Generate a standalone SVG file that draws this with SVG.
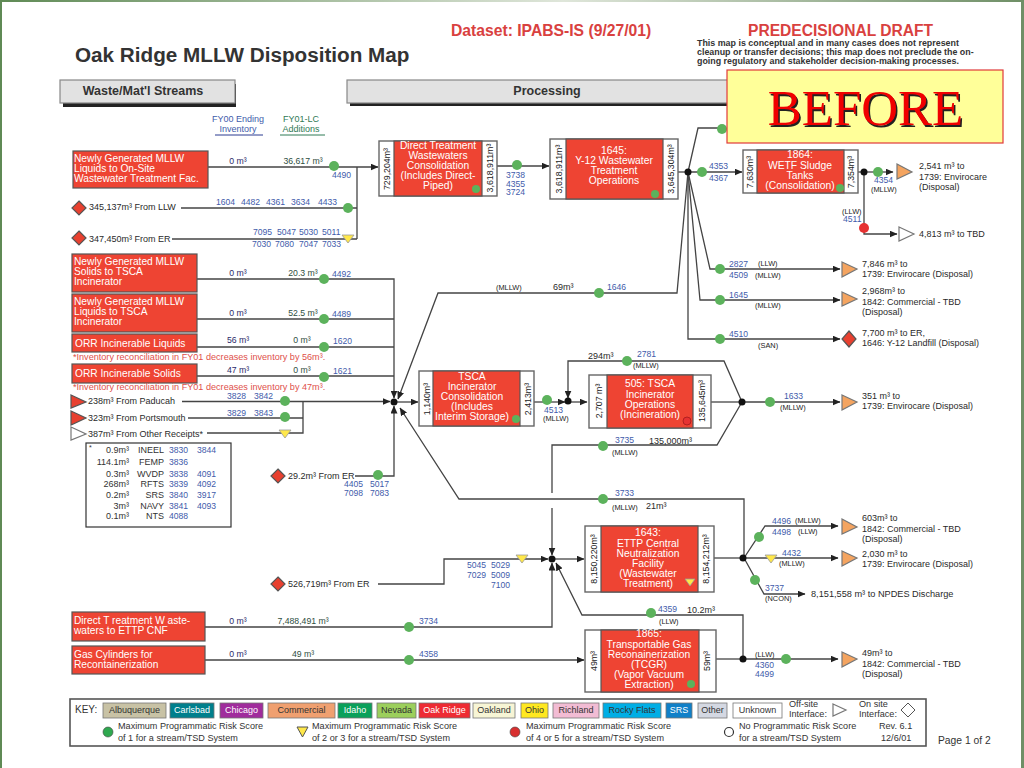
<svg xmlns="http://www.w3.org/2000/svg" width="1024" height="768" viewBox="0 0 1024 768">
<defs>
<marker id="ah" markerWidth="8" markerHeight="7" refX="7.5" refY="3.5" orient="auto" markerUnits="userSpaceOnUse"><path d="M0 0L8 3.5L0 7z" fill="#222"/></marker>
<linearGradient id="tg" x1="0" x2="1" y1="0" y2="0"><stop offset="0" stop-color="#5f8a55"/><stop offset=".55" stop-color="#dfe6da"/><stop offset="1" stop-color="#6f8f66"/></linearGradient>
</defs>
<style>
text{font-family:"Liberation Sans",Arial,sans-serif;fill:#333;font-size:9px}
.t{font-size:9px;fill:#2a2a2a}
.b{fill:#3f5cab;font-size:8.6px}
.s{fill:#222;font-size:7.4px}
.d{fill:#2f4f3f;font-size:8.7px}
.n{fill:#2a2a6a;font-size:8.7px}
.rt{fill:#fff;font-size:10.2px}
.rc{fill:#fff;font-size:10.3px;text-anchor:middle}
.rb{fill:#ee4433;stroke:#555;stroke-width:1.2}
.o{fill:#f4a460;stroke:#777;stroke-width:1.2}
.dm{fill:#e8402f;stroke:#555;stroke-width:1.2}
.wt{fill:#fff;stroke:#777;stroke-width:1.2}
.g circle{fill:#5cb25c}
.y polygon{fill:#ffe84a;stroke:#999;stroke-width:.8}
.l{fill:none;stroke:#444;stroke-width:1.3}
.a{fill:none;stroke:#444;stroke-width:1.3;marker-end:url(#ah)}
.pb{fill:#fff;stroke:#666;stroke-width:1.4}
.v{font-size:8.8px;fill:#222;text-anchor:middle}
.k{font-size:9px;text-anchor:middle}
.kw{font-size:9px;text-anchor:middle;fill:#fff}
.note{fill:#e0504a;font-size:9.1px}
.sub{font-size:9.1px;fill:#333}
.hd{font-size:12.5px;font-weight:bold;text-anchor:middle;fill:#333}
.dc{font-size:8.9px;font-weight:bold;fill:#333}
.bf{font-family:"Liberation Serif",serif;font-size:51px;text-anchor:middle}
</style>
<rect width="1024" height="768" fill="#fff"/>
<rect x="0" y="0" width="1024" height="2" fill="url(#tg)"/>
<rect x="0" y="0" width="2" height="768" fill="#5f8a55"/>
<rect x="1021" y="0" width="3" height="768" fill="#6f8f66"/>

<g id="header">
<text x="75" y="62" style="font-size:20.7px;font-weight:bold;fill:#333">Oak Ridge MLLW Disposition Map</text>
<text x="451" y="36" style="font-size:15.7px;font-weight:bold;fill:#d9413f">Dataset: IPABS-IS (9/27/01)</text>
<text x="748" y="36" style="font-size:15.6px;font-weight:bold;fill:#d9413f">PREDECISIONAL DRAFT</text>
<text class="dc" x="697" y="46">This map is conceptual and in many cases does not represent</text>
<text class="dc" x="697" y="55">cleanup or transfer decisions; this map does not preclude the on-</text>
<text class="dc" x="697" y="64">going regulatory and stakeholder decision-making processes.</text>
</g>
<g id="band-streams"><rect x="63" y="84" width="173" height="23" fill="#222"/><rect x="60" y="80" width="175" height="23" fill="#e2e2e2" stroke="#888" stroke-width="1.2"/><text class="hd" x="143" y="95">Waste/Mat'l Streams</text></g>
<g id="band-processing"><rect x="350" y="83" width="385" height="23" fill="#222"/><rect x="347" y="80" width="385" height="23" fill="#e2e2e2" stroke="#888" stroke-width="1.2"/><text class="hd" x="547" y="95">Processing</text></g>
<g id="col-heads">
<text x="238" y="122" text-anchor="middle" class="b" style="font-size:9px">FY00 Ending</text><text x="238" y="132" text-anchor="middle" class="b" style="font-size:9px">Inventory</text>
<line x1="215" x2="263" y1="135" y2="135" stroke="#2a3a90" stroke-width="1"/>
<text x="301" y="122" text-anchor="middle" style="fill:#2f7a55">FY01-LC</text><text x="301" y="132" text-anchor="middle" style="fill:#2f7a55">Additions</text>
<line x1="280" x2="325" y1="135" y2="135" stroke="#2f7a55" stroke-width="1"/>
</g>

<g id="connectors">
<path class="a" d="M208 167H378"/><path class="l" d="M357 167V239"/>
<path class="l" d="M181 208H357"/><path class="l" d="M172 239H357"/>
<path class="a" d="M197 279H394V398"/><path class="l" d="M197 319H394"/><path class="l" d="M197 347H394"/><path class="l" d="M197 376H394"/>
<path class="a" d="M182 401.500H390"/><path class="l" d="M188 418H303"/><path class="l" d="M207 433H303V402"/>
<path class="a" d="M355 476H394V406"/>
<path class="a" d="M688 172L677 293H438L398 399"/>
<path class="a" d="M396 402H418"/>
<path class="a" d="M744 559V499H459L400 408"/>
<path class="a" d="M497 166H549"/>
<path class="l" d="M678 172H688"/>
<path class="l" d="M688 172L698 128H726"/>
<path class="a" d="M688 172H742"/>
<path class="a" d="M688 172V339H840"/>
<path class="a" d="M688 172L710 269H840"/>
<path class="a" d="M688 172L700 300H840"/>
<path class="l" d="M858 172H864"/>
<path class="a" d="M864 172H893"/>
<path class="a" d="M864 172V234H897"/>
<path class="a" d="M534 402H565"/>
<path class="a" d="M568 402H587"/>
<path class="l" d="M711 402H742"/>
<path class="a" d="M742 402L724 361H568V398"/>
<path class="a" d="M742 402H840"/>
<path class="l" d="M742 402L717 445H552V493"/>
<path class="a" d="M552 508V555"/>
<path class="a" d="M205 627H552V563"/>
<path class="a" d="M378 584H444V559H548"/>
<path class="a" d="M553 559H584"/>
<path class="l" d="M714 558H744"/>
<path class="a" d="M744 558H838"/>
<path class="a" d="M744 558L765 526H838"/>
<path class="a" d="M744 558L764 594H805"/>
<path class="a" d="M743 659V615H582L556 563"/>
<path class="l" d="M716 659H743"/>
<path class="a" d="M743 659H838"/>
<path class="a" d="M205 660H584"/>
</g>

<g id="left-streams">
<g id="s1"><rect class="rb" x="73" y="151" width="135" height="37"/><text class="rt" x="74" y="162">Newly Generated MLLW</text><text class="rt" x="74" y="172">Liquids to On-Site</text><text class="rt" x="74" y="182">Wastewater Treatment Fac.</text></g>
<g id="s2"><rect class="rb" x="72" y="254" width="125" height="38"/><text class="rt" x="74" y="265">Newly Generated MLLW</text><text class="rt" x="74" y="275">Solids to TSCA</text><text class="rt" x="74" y="285">Incinerator</text></g>
<g id="s3"><rect class="rb" x="72" y="294" width="125" height="38"/><text class="rt" x="74" y="305">Newly Generated MLLW</text><text class="rt" x="74" y="315">Liquids to TSCA</text><text class="rt" x="74" y="325">Incinerator</text></g>
<g id="s4"><rect class="rb" x="72" y="334" width="125" height="18"/><text class="rt" x="75" y="347">ORR Incinerable Liquids</text></g>
<g id="s5"><rect class="rb" x="72" y="364" width="125" height="19"/><text class="rt" x="75" y="377">ORR Incinerable Solids</text></g>
<g id="s6"><rect class="rb" x="72" y="612" width="133" height="29"/><text class="rt" x="74" y="624">Direct T reatment W aste-</text><text class="rt" x="74" y="634">waters to ETTP CNF</text></g>
<g id="s7"><rect class="rb" x="72" y="646" width="133" height="28"/><text class="rt" x="74" y="658">Gas Cylinders for</text><text class="rt" x="74" y="668">Recontainerization</text></g>
<text class="note" x="73" y="360">*Inventory reconciliation in FY01 decreases inventory by 56m³.</text>
<text class="note" x="73" y="390">*Inventory reconciliation in FY01 decreases inventory by 47m³.</text>
</g>

<g id="sources">
<g id="d1"><polygon class="dm" points="79,201 86,208 79,215 72,208"/><text class="t" x="89" y="210">345,137m³ From LLW</text></g>
<g id="d2"><polygon class="dm" points="79,231 86,238 79,245 72,238"/><text class="t" x="89" y="242">347,450m³ From ER</text></g>
<g id="d3"><polygon class="dm" points="278,469 285,476 278,483 271,476"/><text class="t" x="288" y="479">29.2m³ From ER</text></g>
<g id="d4"><polygon class="dm" points="278,577 285,584 278,591 271,584"/><text class="t" x="288" y="587">526,719m³ From ER</text></g>
<g id="t1"><polygon class="dm" points="71,395 86,402 71,408"/><text class="t" x="88" y="404">238m³ From Paducah</text></g>
<g id="t2"><polygon class="dm" points="71,411 86,418 71,425"/><text class="t" x="88" y="421">323m³ From Portsmouth</text></g>
<g id="t3"><polygon class="wt" points="71,427 86,434 71,440"/><text class="t" x="88" y="437">387m³ From Other Receipts*</text></g>
</g>

<g id="labels-left">
<text class="n" x="238" y="164" text-anchor="middle">0 m³</text><text class="d" x="303" y="164" text-anchor="middle">36,617 m³</text><text class="b" x="332" y="178">4490</text>
<text class="b" x="216" y="205">1604</text><text class="b" x="241" y="205">4482</text><text class="b" x="266" y="205">4361</text><text class="b" x="291" y="205">3634</text><text class="b" x="318" y="205">4433</text>
<text class="b" x="253" y="235">7095</text><text class="b" x="277" y="235">5047</text><text class="b" x="299" y="235">5030</text><text class="b" x="322" y="235">5011</text>
<text class="b" x="252" y="247">7030</text><text class="b" x="275" y="247">7080</text><text class="b" x="299" y="247">7047</text><text class="b" x="322" y="247">7033</text>
<text class="n" x="238" y="276" text-anchor="middle">0 m³</text><text class="d" x="303" y="276" text-anchor="middle">20.3 m³</text><text class="b" x="332" y="277">4492</text>
<text class="n" x="238" y="316" text-anchor="middle">0 m³</text><text class="d" x="303" y="316" text-anchor="middle">52.5 m³</text><text class="b" x="332" y="317">4489</text>
<text class="n" x="238" y="343" text-anchor="middle">56 m³</text><text class="d" x="302" y="343" text-anchor="middle">0 m³</text><text class="b" x="333" y="344">1620</text>
<text class="n" x="238" y="373" text-anchor="middle">47 m³</text><text class="d" x="302" y="373" text-anchor="middle">0 m³</text><text class="b" x="333" y="374">1621</text>
<text class="b" x="227" y="399">3828</text><text class="b" x="254" y="399">3842</text><text class="b" x="227" y="416">3829</text><text class="b" x="254" y="416">3843</text>
<text class="b" x="344" y="487">4405</text><text class="b" x="370" y="487">5017</text><text class="b" x="344" y="496">7098</text><text class="b" x="370" y="496">7083</text>
<text class="n" x="238" y="624" text-anchor="middle">0 m³</text><text class="d" x="303" y="624" text-anchor="middle">7,488,491 m³</text><text class="b" x="419" y="624">3734</text>
<text class="n" x="238" y="657" text-anchor="middle">0 m³</text><text class="d" x="303" y="657" text-anchor="middle">49 m³</text><text class="b" x="419" y="657">4358</text>
</g>

<g id="receipts-box">
<rect x="86" y="443" width="145" height="84" fill="#fff" stroke="#333" stroke-width="1.2"/>
<text x="89" y="450" style="font-size:7px">*</text>
<text x="129" y="453" text-anchor="end">0.9m³</text><text x="164" y="453" text-anchor="end">INEEL</text><text class="b" x="169" y="453">3830</text><text class="b" x="197" y="453">3844</text>
<text x="129" y="465" text-anchor="end">114.1m³</text><text x="164" y="465" text-anchor="end">FEMP</text><text class="b" x="169" y="465">3836</text>
<text x="129" y="477" text-anchor="end">0.3m³</text><text x="164" y="477" text-anchor="end">WVDP</text><text class="b" x="169" y="477">3838</text><text class="b" x="197" y="477">4091</text>
<text x="129" y="487" text-anchor="end">268m³</text><text x="164" y="487" text-anchor="end">RFTS</text><text class="b" x="169" y="487">3839</text><text class="b" x="197" y="487">4092</text>
<text x="129" y="498" text-anchor="end">0.2m³</text><text x="164" y="498" text-anchor="end">SRS</text><text class="b" x="169" y="498">3840</text><text class="b" x="197" y="498">3917</text>
<text x="129" y="509" text-anchor="end">3m³</text><text x="164" y="509" text-anchor="end">NAVY</text><text class="b" x="169" y="509">3841</text><text class="b" x="197" y="509">4093</text>
<text x="129" y="519" text-anchor="end">0.1m³</text><text x="164" y="519" text-anchor="end">NTS</text><text class="b" x="169" y="519">4088</text>
</g>

<g id="p-direct"><rect class="pb" x="379" y="141" width="118" height="55"/><rect class="rb" x="394" y="141" width="88" height="55"/>
<text class="rc" x="438" y="149">Direct Treatment</text><text class="rc" x="438" y="159">Wastewaters</text><text class="rc" x="438" y="169">Consolidation</text><text class="rc" x="438" y="179">(Includes Direct-</text><text class="rc" x="438" y="189">Piped)</text>
<text class="v" transform="translate(390,169) rotate(-90)">729,204m³</text><text class="v" transform="translate(493,168) rotate(-90)">3,618,911m³</text></g>
<g id="p-y12"><rect class="pb" x="550" y="139" width="128" height="60"/><rect class="rb" x="566" y="139" width="97" height="60"/>
<text class="rc" x="614" y="154">1645:</text><text class="rc" x="614" y="164">Y-12 Wastewater</text><text class="rc" x="614" y="174">Treatment</text><text class="rc" x="614" y="184">Operations</text>
<text class="v" transform="translate(562,169) rotate(-90)">3,618,911m³</text><text class="v" transform="translate(674,169) rotate(-90)">3,645,304m³</text></g>
<g id="p-wetf"><rect class="pb" x="743" y="150" width="115" height="43"/><rect class="rb" x="757" y="150" width="87" height="43"/>
<text class="rc" x="800" y="158">1864:</text><text class="rc" x="800" y="169">WETF Sludge</text><text class="rc" x="800" y="179">Tanks</text><text class="rc" x="800" y="189">(Consolidation)</text>
<text class="v" transform="translate(753,172) rotate(-90)">7,630m³</text><text class="v" transform="translate(854,172) rotate(-90)">7,354m³</text></g>
<g id="p-tsca"><rect class="pb" x="419" y="371" width="115" height="55"/><rect class="rb" x="433" y="371" width="87" height="55"/>
<text class="rc" x="472" y="380">TSCA</text><text class="rc" x="472" y="390">Incinerator</text><text class="rc" x="472" y="400">Consolidation</text><text class="rc" x="472" y="410">(Includes</text><text class="rc" x="472" y="420">Interim  Storage)</text>
<text class="v" transform="translate(430,399) rotate(-90)">1,140m³</text><text class="v" transform="translate(531,399) rotate(-90)">2,413m³</text></g>
<g id="p-505"><rect class="pb" x="589" y="375" width="122" height="53"/><rect class="rb" x="607" y="375" width="86" height="53"/>
<text class="rc" x="650" y="387">505: TSCA</text><text class="rc" x="650" y="398">Incinerator</text><text class="rc" x="650" y="408">Operations</text><text class="rc" x="650" y="418">(Incineration)</text>
<text class="v" transform="translate(602,401) rotate(-90)">2,707 m³</text><text class="v" transform="translate(705,401) rotate(-90)">135,645m³</text></g>
<g id="p-1643"><rect class="pb" x="585" y="526" width="129" height="66"/><rect class="rb" x="601" y="526" width="97" height="66"/>
<text class="rc" x="648" y="536">1643:</text><text class="rc" x="648" y="546.500">ETTP Central</text><text class="rc" x="648" y="557">Neutralization</text><text class="rc" x="648" y="567">Facility</text><text class="rc" x="648" y="577">(Wastewater</text><text class="rc" x="648" y="587">Treatment)</text>
<text class="v" transform="translate(597,559) rotate(-90)">8,150,220m³</text><text class="v" transform="translate(709,559) rotate(-90)">8,154,212m³</text></g>
<g id="p-1865"><rect class="pb" x="585" y="630" width="131" height="62"/><rect class="rb" x="601" y="630" width="98" height="62"/>
<text class="rc" x="649" y="637">1865:</text><text class="rc" x="649" y="647.500">Transportable Gas</text><text class="rc" x="649" y="657.500">Reconainerization</text><text class="rc" x="649" y="667.500">(TCGR)</text><text class="rc" x="649" y="677.500">(Vapor Vacuum</text><text class="rc" x="649" y="687.500">Extraction)</text>
<text class="v" transform="translate(597,661) rotate(-90)">49m³</text><text class="v" transform="translate(710,661) rotate(-90)">59m³</text></g>

<g id="risk-dots" class="g">
<circle cx="334" cy="166" r="5"/><circle cx="348" cy="208" r="5"/><circle cx="324" cy="279" r="5"/><circle cx="324" cy="319" r="5"/><circle cx="324" cy="347" r="5"/><circle cx="324" cy="377" r="5"/><circle cx="285" cy="401" r="5"/><circle cx="285" cy="417" r="5"/><circle cx="378" cy="475" r="5"/>
<circle cx="409" cy="627" r="5"/><circle cx="409" cy="660" r="5"/>
<circle cx="517" cy="165" r="5"/><circle cx="476" cy="189" r="4"/><circle cx="655" cy="194" r="4"/>
<circle cx="599" cy="293" r="5"/>
<circle cx="722" cy="129" r="5"/><circle cx="702" cy="172" r="5"/><circle cx="720" cy="269" r="5"/><circle cx="720" cy="300" r="5"/><circle cx="720" cy="339" r="5"/><circle cx="770" cy="402" r="5"/>
<circle cx="840" cy="188" r="4"/><circle cx="878" cy="172" r="5"/>
<circle cx="547" cy="400" r="5"/><circle cx="627" cy="361" r="5"/><circle cx="603" cy="446" r="5"/><circle cx="603" cy="499" r="5"/>
<circle cx="516" cy="419" r="4"/>
<circle cx="759" cy="537" r="5"/><circle cx="755" cy="580" r="5"/><circle cx="651" cy="613" r="5"/><circle cx="786" cy="659" r="5"/><circle cx="691" cy="684" r="4"/>
</g>
<g id="risk-red"><circle cx="864" cy="228" r="5" fill="#e63232"/><circle cx="687" cy="421" r="4" fill="#e63232" stroke="#b02020" stroke-width="1"/></g>
<g id="risk-tri" class="y">
<polygon points="342,235 354,235 348,243"/><polygon points="279,430 291,430 285,438"/><polygon points="516,555 528,555 522,563"/><polygon points="685,579 695,579 690,586"/><polygon points="765,555 777,555 771,563"/>
</g>
<g id="junctions" fill="#111">
<circle cx="394" cy="402" r="3.500"/><circle cx="568" cy="401" r="3.500"/><circle cx="742" cy="402" r="3.500"/><circle cx="688" cy="172" r="3.500"/><circle cx="864" cy="172" r="3.500"/><circle cx="552" cy="559" r="3.500"/><circle cx="743" cy="558" r="3.500"/><circle cx="743" cy="659" r="3.500"/>
</g>

<g id="labels-proc">
<text class="b" x="506" y="178">3738</text><text class="b" x="506" y="187">4355</text><text class="b" x="506" y="195">3724</text>
<text class="s" x="496" y="290">(MLLW)</text><text class="t" x="553" y="290">69m³</text><text class="b" x="607" y="290">1646</text>
<text class="b" x="709" y="169">4353</text><text class="b" x="709" y="181">4367</text>
<text class="b" x="874" y="183">4354</text><text class="s" x="871" y="192">(MLLW)</text>
<text class="s" x="842" y="214">(LLW)</text><text class="b" x="843" y="222">4511</text>
<text class="b" x="729" y="267">2827</text><text class="s" x="758" y="266">(LLW)</text><text class="b" x="729" y="278">4509</text><text class="s" x="755" y="278">(MLLW)</text>
<text class="b" x="729" y="298">1645</text><text class="s" x="755" y="308">(MLLW)</text>
<text class="b" x="729" y="337">4510</text><text class="s" x="758" y="348">(SAN)</text>
<text class="t" x="588" y="359">294m³</text><text class="b" x="637" y="357">2781</text><text class="s" x="633" y="368">(MLLW)</text>
<text class="b" x="544" y="413">4513</text><text class="s" x="543" y="421">(MLLW)</text>
<text class="b" x="615" y="443">3735</text><text class="s" x="612" y="455">(MLLW)</text><text class="t" x="649" y="444">135,000m³</text>
<text class="b" x="615" y="496">3733</text><text class="s" x="612" y="510">(MLLW)</text><text class="t" x="646" y="509">21m³</text>
<text class="b" x="467" y="568">5045</text><text class="b" x="491" y="568">5029</text><text class="b" x="467" y="578">7029</text><text class="b" x="491" y="578">5009</text><text class="b" x="491" y="588">7100</text>
<text class="b" x="658" y="612">4359</text><text class="t" x="687" y="613">10.2m³</text><text class="s" x="659" y="624">(LLW)</text>
<text class="b" x="772" y="524">4496</text><text class="s" x="795" y="523">(MLLW)</text><text class="b" x="772" y="535">4498</text><text class="s" x="798" y="534">(LLW)</text>
<text class="b" x="782" y="556">4432</text><text class="s" x="779" y="566">(MLLW)</text>
<text class="b" x="765" y="591">3737</text><text class="s" x="765" y="601">(NCON)</text>
<text class="s" x="755" y="657">(LLW)</text><text class="b" x="755" y="668">4360</text><text class="b" x="755" y="677">4499</text>
<text class="b" x="784" y="399">1633</text><text class="s" x="780" y="410">(MLLW)</text>
</g>

<g id="destinations">
<g id="out1"><polygon class="o" points="897,164 912,172 897,179"/><text class="t" x="919" y="169">2,541 m³ to</text><text class="t" x="919" y="180">1739: Envirocare</text><text class="t" x="919" y="190">(Disposal)</text></g>
<g id="out2"><polygon class="wt" points="899,227 914,234 899,241"/><text class="t" x="919" y="237">4,813 m³ to TBD</text></g>
<g id="out3"><polygon class="o" points="842,262 857,269 842,277"/><text class="t" x="862" y="267">7,846 m³ to</text><text class="t" x="862" y="277">1739: Envirocare (Disposal)</text></g>
<g id="out4"><polygon class="o" points="842,292 857,299 842,306"/><text class="t" x="862" y="294">2,968m³ to</text><text class="t" x="862" y="305">1842: Commercial - TBD</text><text class="t" x="862" y="315">(Disposal)</text></g>
<g id="out5"><polygon class="dm" points="849,331 856,339 849,347 842,339"/><text class="t" x="862" y="336">7,700 m³ to ER,</text><text class="t" x="862" y="346">1646: Y-12 Landfill (Disposal)</text></g>
<g id="out6"><polygon class="o" points="842,395 857,402 842,410"/><text class="t" x="862" y="399">351 m³ to</text><text class="t" x="862" y="409">1739: Envirocare (Disposal)</text></g>
<g id="out7"><polygon class="o" points="842,519 857,527 842,534"/><text class="t" x="862" y="521">603m³ to</text><text class="t" x="862" y="532">1842: Commercial - TBD</text><text class="t" x="862" y="542">(Disposal)</text></g>
<g id="out8"><polygon class="o" points="842,551 857,558 842,566"/><text class="t" x="862" y="557">2,030 m³ to</text><text class="t" x="862" y="567">1739: Envirocare (Disposal)</text></g>
<g id="out9"><text class="t" x="811" y="597" style="font-size:9.2px">8,151,558 m³ to NPDES Discharge</text></g>
<g id="out10"><polygon class="o" points="842,652 857,659 842,667"/><text class="t" x="862" y="656">49m³ to</text><text class="t" x="862" y="667">1842: Commercial - TBD</text><text class="t" x="862" y="677">(Disposal)</text></g>
</g>

<g id="key">
<rect x="70" y="699" width="856" height="47" fill="#fff" stroke="#555" stroke-width="1.6"/>
<text x="75" y="713" style="font-size:10px">KEY:</text>
<g stroke="#777" stroke-width=".8">
<rect x="103" y="703" width="63" height="15" fill="#c8c2a5"/><rect x="170" y="703" width="44" height="15" fill="#007f8c"/><rect x="220" y="703" width="43" height="15" fill="#a02c9c"/><rect x="268" y="703" width="67" height="15" fill="#f0a070"/><rect x="338" y="703" width="34" height="15" fill="#0aa05a"/><rect x="377" y="703" width="39" height="15" fill="#9ccf5c"/><rect x="419" y="703" width="51" height="15" fill="#ee2b33"/><rect x="473" y="703" width="42" height="15" fill="#f7f5d5"/><rect x="521" y="703" width="27" height="15" fill="#ffe820"/><rect x="553" y="703" width="46" height="15" fill="#f2bcd4"/><rect x="603" y="703" width="58" height="15" fill="#00aee5"/><rect x="666" y="703" width="26" height="15" fill="#1080c8"/><rect x="698" y="703" width="29" height="15" fill="#d4d8e2"/><rect x="733" y="703" width="49" height="15" fill="#fff"/>
</g>
<text class="k" x="134.500" y="713">Albuquerque</text><text class="kw" x="192" y="713">Carlsbad</text><text class="kw" x="241.500" y="713">Chicago</text><text class="k" x="301.500" y="713">Commercial</text><text class="kw" x="355" y="713">Idaho</text><text class="k" x="396.500" y="713">Nevada</text><text class="kw" x="444.500" y="713">Oak Ridge</text><text class="k" x="494" y="713">Oakland</text><text class="k" x="534.500" y="713">Ohio</text><text class="k" x="576" y="713">Richland</text><text class="k" x="632" y="713">Rocky Flats</text><text class="kw" x="679" y="713">SRS</text><text class="k" x="712.500" y="713">Other</text><text class="k" x="757.500" y="713">Unknown</text>
<text class="sub" x="789" y="707">Off-site</text><text class="sub" x="789" y="717">Interface:</text>
<polygon class="wt" points="833,704 846,710 833,716"/>
<text class="sub" x="859" y="707">On site</text><text class="sub" x="859" y="717">Interface:</text>
<polygon fill="#fff" stroke="#555" points="908,703 915,710 908,717 901,710"/>
<circle cx="108" cy="732" r="5" fill="#2fa84f" stroke="#444" stroke-width=".6"/>
<text class="sub" x="118" y="729">Maximum Programmatic Risk Score</text><text class="sub" x="118" y="741">of 1 for a stream/TSD System</text>
<polygon points="297,727 308,727 302.500,737" fill="#ffe84a" stroke="#555" stroke-width="1"/>
<text class="sub" x="312" y="729">Maximum Programmatic Risk Score</text><text class="sub" x="312" y="741">of 2 or 3 for a stream/TSD System</text>
<circle cx="515" cy="732" r="5" fill="#d83030" stroke="#444" stroke-width=".6"/>
<text class="sub" x="526" y="729">Maximum Programmatic Risk Score</text><text class="sub" x="526" y="741">of 4 or 5 for a stream/TSD System</text>
<circle cx="729" cy="732" r="4.500" fill="#fff" stroke="#333" stroke-width="1.2"/>
<text class="sub" x="739" y="729">No Programmatic Risk Score</text><text class="sub" x="739" y="741">for a stream/TSD System</text>
<text class="sub" x="879" y="729">Rev. 6.1</text><text class="sub" x="881" y="741">12/6/01</text>
</g>
<text id="page" x="938" y="744" style="font-size:10.3px">Page 1 of 2</text>

<g id="before">
<rect x="727" y="70" width="276" height="73" fill="#ffff99" stroke="#e03a3a" stroke-width="1.2"/>
<text class="bf" x="867" y="127" style="fill:#222">BEFORE</text>
<text class="bf" x="865.500" y="125" style="fill:#f00000">BEFORE</text>
</g>
</svg>
